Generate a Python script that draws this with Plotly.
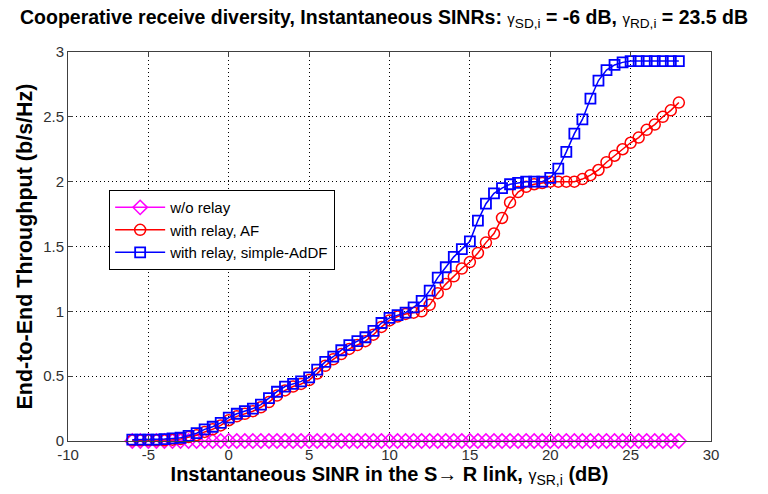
import numpy as np
import plotly.graph_objects as go

x_db = [-6 + 0.5 * i for i in range(69)]

wo_relay = [0.0] * 69

af = [0.005, 0.005, 0.005, 0.005, 0.005, 0.01, 0.015, 0.03, 0.045, 0.07,
      0.09, 0.12, 0.16, 0.19, 0.21, 0.23, 0.26, 0.30, 0.35, 0.39,
      0.42, 0.44, 0.47, 0.52, 0.58, 0.63, 0.67, 0.71, 0.74, 0.77,
      0.82, 0.88, 0.93, 0.96, 0.98, 0.99, 1.0, 1.05, 1.14, 1.21,
      1.27, 1.33, 1.38, 1.45, 1.53, 1.60, 1.72, 1.84, 1.92, 1.96,
      1.98, 1.99, 2.0, 2.0, 2.0, 2.0, 2.02, 2.05, 2.09, 2.15,
      2.20, 2.25, 2.30, 2.34, 2.40, 2.44, 2.50, 2.55, 2.61]

addf = [0.01, 0.01, 0.01, 0.01, 0.015, 0.02, 0.025, 0.04, 0.06, 0.09,
        0.11, 0.14, 0.18, 0.21, 0.23, 0.25, 0.28, 0.33, 0.38, 0.42,
        0.44, 0.46, 0.49, 0.55, 0.61, 0.65, 0.70, 0.74, 0.77, 0.80,
        0.85, 0.91, 0.95, 0.97, 0.99, 1.03, 1.08, 1.16, 1.26, 1.34,
        1.42, 1.48, 1.54, 1.70, 1.83, 1.91, 1.95, 1.98, 1.99, 2.0,
        2.0, 2.0, 2.03, 2.10, 2.23, 2.37, 2.48, 2.64, 2.78, 2.86,
        2.90, 2.92, 2.93, 2.93, 2.93, 2.93, 2.93, 2.93, 2.93]

x_ticks = [-10, -5, 0, 5, 10, 15, 20, 25, 30]
y_ticks = [0, 0.5, 1, 1.5, 2, 2.5, 3]

fig = go.Figure()
fig.add_trace(go.Scatter(
    x=x_db, y=wo_relay, name="w/o relay", mode="lines+markers",
    line=dict(color="#ff00ff", width=1.5),
    marker=dict(symbol="diamond-open", size=11, color="#ff00ff", line=dict(width=1.5)),
    cliponaxis=False))
fig.add_trace(go.Scatter(
    x=x_db, y=af, name="with relay, AF", mode="lines+markers",
    line=dict(color="#ff0000", width=1.5),
    marker=dict(symbol="circle-open", size=11, color="#ff0000", line=dict(width=1.5)),
    cliponaxis=False))
fig.add_trace(go.Scatter(
    x=x_db, y=addf, name="with relay, simple-AdDF", mode="lines+markers",
    line=dict(color="#0000ff", width=1.5),
    marker=dict(symbol="square-open", size=10, color="#0000ff", line=dict(width=1.8)),
    cliponaxis=False))

axis_common = dict(
    showline=True, linecolor="#404040", linewidth=1, mirror="ticks",
    ticks="inside", ticklen=5, tickcolor="#404040",
    showgrid=True, gridcolor="#000000", gridwidth=1, griddash="1px,3px",
    zeroline=False, tickfont=dict(family="Liberation Sans", size=15, color="#303030"),
)

fig.update_layout(
    width=768, height=494,
    margin=dict(l=68, r=57, t=52, b=53),
    paper_bgcolor="white", plot_bgcolor="white",
    font=dict(family="Liberation Sans", color="#000000"),
    title=dict(
        text="<b>Cooperative receive diversity, Instantaneous SINRs: </b><span style='font-size:15px'>γ</span><sub>SD,i</sub><b> = -6 dB, </b><span style='font-size:15px'>γ</span><sub>RD,i</sub><b> = 23.5 dB</b>",
        x=0.5, xanchor="center", y=0.966, yanchor="middle",
        font=dict(family="Liberation Sans", size=19.5, color="#000000")),
    xaxis=dict(range=[-10, 30], tickvals=x_ticks, ticktext=[str(v) for v in x_ticks],
               title=dict(text="<b>Instantaneous SINR in the S→ R link, </b><span style='font-size:16px'>γ</span><sub>SR,i</sub><b> (dB)</b>",
                          font=dict(family="Liberation Sans", size=20), standoff=2),
               **axis_common),
    yaxis=dict(range=[0, 3], tickvals=y_ticks, ticktext=[str(v) for v in y_ticks],
               title=dict(text="<b>End-to-End Throughput (b/s/Hz)</b>",
                          font=dict(family="Liberation Sans", size=21.5), standoff=4),
               **axis_common),
    legend=dict(x=0.064, y=0.645, xanchor="left", yanchor="top",
                bordercolor="#000000", borderwidth=1, bgcolor="white",
                font=dict(family="Liberation Sans", size=15), itemwidth=50,
                tracegroupgap=0),
    showlegend=True,
)

fig.write_html("out.html")
